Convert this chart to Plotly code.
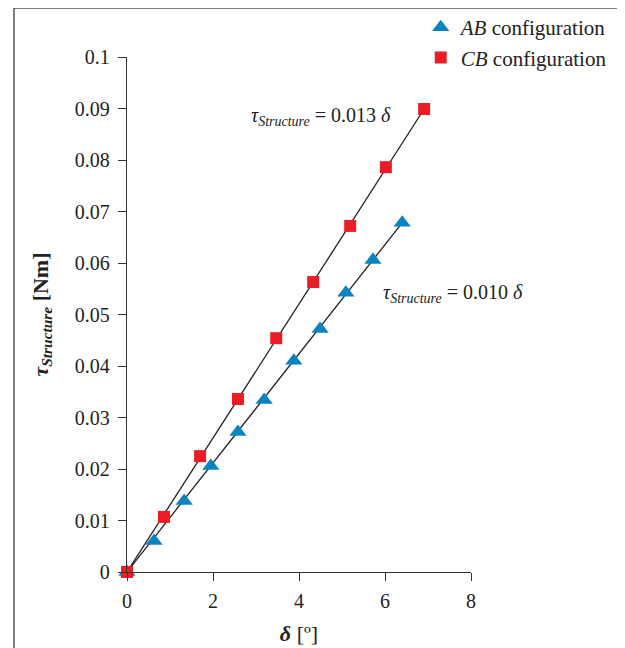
import plotly.graph_objects as go

# Data
cb_x = [0.0, 0.86, 1.70, 2.58, 3.47, 4.33, 5.19, 6.02, 6.91]
cb_y = [0.0, 0.0107, 0.0225, 0.0336, 0.0454, 0.0563, 0.0672, 0.0786, 0.0899]
ab_x = [0.0, 0.63, 1.33, 1.95, 2.58, 3.19, 3.88, 4.49, 5.09, 5.72, 6.40]
ab_y = [0.0, 0.0060, 0.0138, 0.0206, 0.0272, 0.0334, 0.0410, 0.0472, 0.0542, 0.0606, 0.0678]
fit_cb_x = [0.0, 6.91]
fit_cb_y = [0.0, 0.0899]
fit_ab_x = [0.0, 6.40]
fit_ab_y = [0.0, 0.0678]
x_ticks = [0, 2, 4, 6, 8]
y_ticks = [0, 0.01, 0.02, 0.03, 0.04, 0.05, 0.06, 0.07, 0.08, 0.09, 0.1]
y_ticktext = ["0", "0.01", "0.02", "0.03", "0.04", "0.05", "0.06", "0.07", "0.08", "0.09", "0.1"]

FONT = "Liberation Serif"
BLUE = "#0A84BF"
RED = "#EC1C24"
INK = "#222222"

fig = go.Figure()
fig.add_trace(go.Scatter(x=fit_cb_x, y=fit_cb_y, mode="lines",
                         line=dict(color=INK, width=1.3), showlegend=False, hoverinfo="skip"))
fig.add_trace(go.Scatter(x=fit_ab_x, y=fit_ab_y, mode="lines",
                         line=dict(color=INK, width=1.3), showlegend=False, hoverinfo="skip"))
fig.add_trace(go.Scatter(x=ab_x, y=ab_y, mode="markers", name="<i>AB</i> configuration",
                         marker=dict(symbol="triangle-up", size=15, color=BLUE), cliponaxis=False))
fig.add_trace(go.Scatter(x=cb_x, y=cb_y, mode="markers", name="<i>CB</i> configuration",
                         marker=dict(symbol="square", size=12, color=RED), cliponaxis=False))

axis_common = dict(showgrid=False, zeroline=False, showline=True, linecolor="#333333", linewidth=1.3,
                   ticks="outside", ticklen=8, tickwidth=1.3, tickcolor="#333333",
                   tickfont=dict(family=FONT, size=20, color=INK))

fig.update_xaxes(range=[0, 8], tickvals=x_ticks, ticklabelstandoff=3, **axis_common,
                 title=dict(text="<b><i>δ</i></b> [º]", font=dict(family=FONT, size=22, color=INK), standoff=14))
fig.update_yaxes(range=[0, 0.1], tickvals=y_ticks, ticktext=y_ticktext, ticklabelstandoff=4,
                 **axis_common,
                 title=dict(text="<b><i>τ</i></b><sub><b><i>Structure</i></b></sub> <b>[Nm]</b>",
                            font=dict(family=FONT, size=22, color=INK), standoff=20))

fig.add_annotation(x=2.84, xref="x", y=0.0885, yref="y", showarrow=False,
                   text="<i>τ</i><sub><i>Structure</i></sub> = 0.013 <i>δ</i>",
                   font=dict(family=FONT, size=20, color=INK), xanchor="left")
fig.add_annotation(x=5.90, xref="x", y=0.0540, yref="y", showarrow=False,
                   text="<i>τ</i><sub><i>Structure</i></sub> = 0.010 <i>δ</i>",
                   font=dict(family=FONT, size=20, color=INK), xanchor="left")

fig.add_shape(type="rect", xref="paper", yref="paper", x0=-0.3285, y0=-1.0, x1=2.0, y1=1.0951,
              line=dict(color="#555555", width=1.5), fillcolor="rgba(0,0,0,0)", layer="below")

fig.update_layout(
    width=617, height=640,
    margin=dict(l=119, r=154, t=49, b=76, autoexpand=False),
    paper_bgcolor="white", plot_bgcolor="white",
    font=dict(family=FONT, size=20, color=INK),
    legend=dict(x=1.412, xanchor="right", y=1.097, yanchor="top", bgcolor="rgba(0,0,0,0)",
                font=dict(family=FONT, size=21, color=INK), tracegroupgap=0, itemwidth=30),
)

fig.write_html("out.html")
